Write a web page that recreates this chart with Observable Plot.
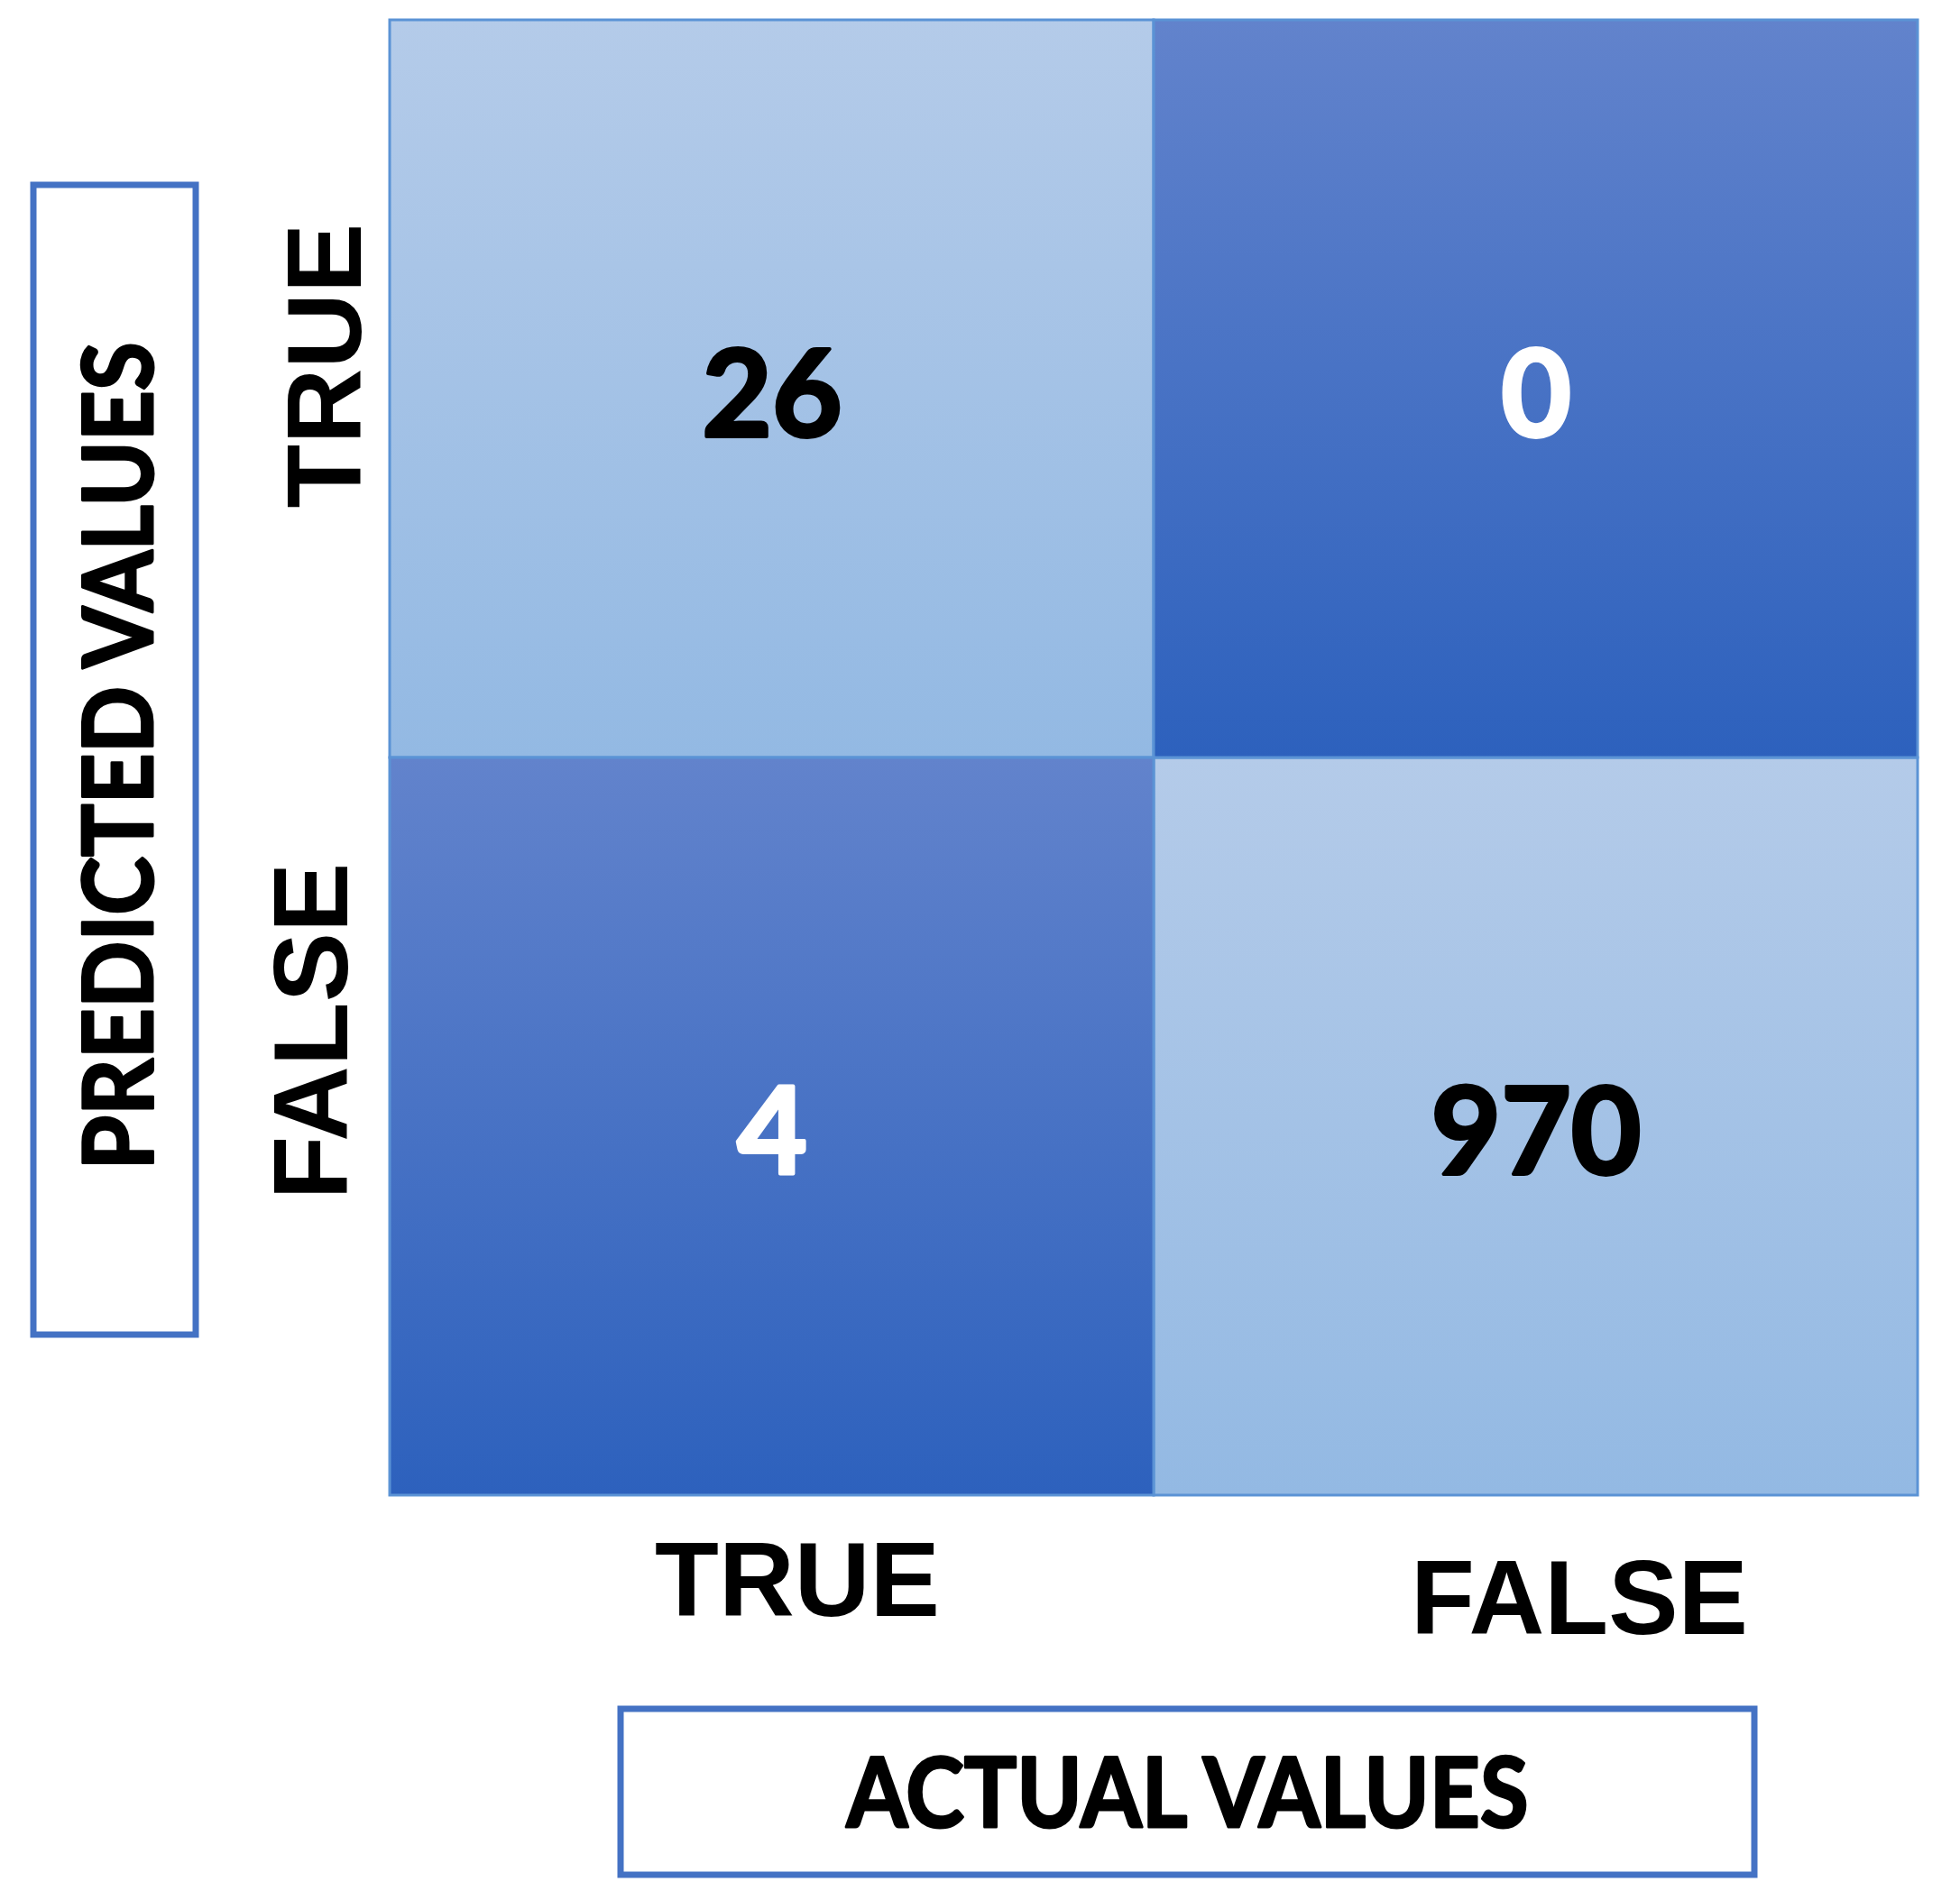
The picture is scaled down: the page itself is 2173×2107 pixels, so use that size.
<!DOCTYPE html>
<html>
<head>
<meta charset="utf-8">
<script src="https://cdn.jsdelivr.net/npm/d3@7"></script>
<script src="https://cdn.jsdelivr.net/npm/@observablehq/plot@0.6"></script>
<style>
  html, body { margin: 0; padding: 0; background: #ffffff; }
  svg { display: block; }
</style>
</head>
<body>
<div id="chart"></div>
<script>
// ---- data ----
const actualLabels = ["TRUE", "FALSE"];      // columns
const predictedLabels = ["TRUE", "FALSE"];   // rows
const countsRow1 = [26, 0];                  // predicted TRUE
const countsRow2 = [4, 970];                 // predicted FALSE
const xTitle = "ACTUAL VALUES";
const yTitle = "PREDICTED VALUES";

const countRows = [countsRow1, countsRow2];
const cells = predictedLabels.flatMap((p, i) =>
  actualLabels.map((a, j) => ({predicted: p, actual: a, count: countRows[i][j], correct: i === j}))
);
const light = cells.filter(d => d.correct);
const dark = cells.filter(d => !d.correct);

// gradient definitions (render-function mark)
function gradients() {
  const ns = "http://www.w3.org/2000/svg";
  const g = document.createElementNS(ns, "g");
  const defs = document.createElementNS(ns, "defs");
  const make = (id, top, bottom) => {
    const lg = document.createElementNS(ns, "linearGradient");
    lg.setAttribute("id", id);
    lg.setAttribute("x1", "0"); lg.setAttribute("y1", "0");
    lg.setAttribute("x2", "0"); lg.setAttribute("y2", "1");
    [[0, top], [1, bottom]].forEach(([o, c]) => {
      const s = document.createElementNS(ns, "stop");
      s.setAttribute("offset", o);
      s.setAttribute("stop-color", c);
      lg.appendChild(s);
    });
    defs.appendChild(lg);
  };
  make("cmLight", "#b4cbe9", "#93b9e3");
  make("cmDark", "#6283cc", "#2d61bd");
  g.appendChild(defs);
  return g;
}

const numFont = {fontFamily: "Lato", fontWeight: 700, fontSize: 134, strokeWidth: 4, strokeLinejoin: "round"};
const lblFont = {fontFamily: "Liberation Sans", fontWeight: 700, fontSize: 116};
const ttlFont = {fontFamily: "Lato", fontWeight: 700, fontSize: 107, strokeWidth: 3, strokeLinejoin: "round"};

const chart = Plot.plot({
  width: 2173,
  height: 2107,
  marginLeft: 432,
  marginTop: 22,
  marginRight: 47,
  marginBottom: 449,
  style: {background: "#ffffff", overflow: "visible"},
  x: {type: "band", domain: actualLabels, padding: 0, round: false, axis: null},
  y: {type: "band", domain: predictedLabels, padding: 0, round: false, axis: null},
  marks: [
    gradients,
    Plot.cell(light, {x: "actual", y: "predicted", fill: "url(#cmLight)", stroke: "#5b93d5", strokeWidth: 3}),
    Plot.cell(dark, {x: "actual", y: "predicted", fill: "url(#cmDark)", stroke: "#5b93d5", strokeWidth: 3}),
    Plot.text(light, {x: "actual", y: "predicted", text: d => String(d.count), fill: "#000000", stroke: "#000000", dy: 10, ...numFont}),
    Plot.text(dark, {x: "actual", y: "predicted", text: d => String(d.count), fill: "#ffffff", stroke: "#ffffff", dy: 10, ...numFont}),
    // column labels
    Plot.text([actualLabels[0]], {x: d => d, text: d => d, frameAnchor: "bottom", textAnchor: "middle", lineAnchor: "middle", dx: 28, dy: 96, fill: "#000000", ...lblFont}),
    Plot.text([actualLabels[1]], {x: d => d, text: d => d, frameAnchor: "bottom", textAnchor: "middle", lineAnchor: "middle", dx: 48, dy: 116, fill: "#000000", ...lblFont}),
    // row labels
    Plot.text([predictedLabels[0]], {y: d => d, text: d => d, frameAnchor: "left", textAnchor: "middle", lineAnchor: "middle", rotate: -90, dx: -70, dy: -26, fill: "#000000", ...lblFont}),
    Plot.text([predictedLabels[1]], {y: d => d, text: d => d, frameAnchor: "left", textAnchor: "middle", lineAnchor: "middle", rotate: -90, dx: -85, dy: -106, fill: "#000000", ...lblFont}),
    // title boxes
    Plot.frame({stroke: "#4472c4", strokeWidth: 7, insetLeft: -395.5, insetRight: 1909.5, insetTop: 182.5, insetBottom: 178.5}),
    Plot.frame({stroke: "#4472c4", strokeWidth: 7, insetLeft: 255.5, insetRight: 181.5, insetTop: 1872.5, insetBottom: -420.5}),
    // titles
    Plot.text([yTitle], {text: d => d, frameAnchor: "left", textAnchor: "middle", lineAnchor: "middle", rotate: -90, dx: -298, dy: -2, fill: "#000000", stroke: "#000000", ...ttlFont}),
    Plot.text([xTitle], {text: d => d, frameAnchor: "bottom", textAnchor: "middle", lineAnchor: "middle", dx: 37, dy: 333, fill: "#000000", stroke: "#000000", ...ttlFont})
  ]
});

const fitText = (label, len) =>
  d3.select(chart).selectAll("text")
    .filter(function () { return this.textContent === label; })
    .attr("textLength", len)
    .attr("lengthAdjust", "spacingAndGlyphs");
fitText(yTitle, 918);
fitText(xTitle, 756);

document.getElementById("chart").appendChild(chart);
</script>
</body>
</html>
